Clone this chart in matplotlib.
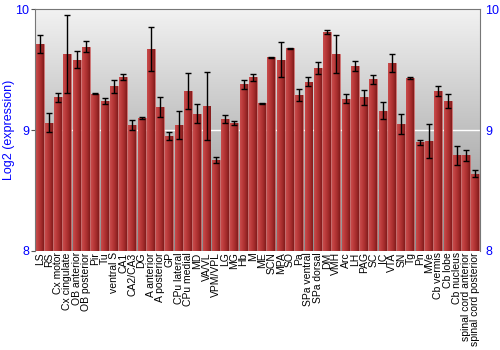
import numpy as np
import matplotlib
matplotlib.use("Agg")
import matplotlib.pyplot as plt
from matplotlib.colors import LinearSegmentedColormap

plt.rcParams["font.family"] = ["Liberation Sans", "DejaVu Sans"]

regions = [
    "LS", "RS", "Cx motor", "Cx cingulate", "OB anterior", "OB posterior",
    "Pir", "Tu", "ventral S", "CA1", "CA2/CA3", "DG", "A anterior",
    "A posterior", "GP", "CPu lateral", "CPu medial", "MD", "VA/VL",
    "VPM/VPL", "LG", "MG", "Hb", "M", "ME", "SCN", "MPA", "SO", "Pa",
    "SPa ventral", "SPa dorsal", "DM", "VMH", "Arc", "LH", "PAG", "SC", "IC",
    "VTA", "SN", "Tg", "Pn", "MVe", "Cb vermis", "Cb lobe", "Cb nucleus",
    "spinal cord anterior", "spinal cord posterior",
]

expression = [
    9.71, 9.06, 9.27, 9.63, 9.58, 9.69,
    9.30, 9.24, 9.36, 9.44, 9.04, 9.10, 9.67,
    9.19, 8.95, 9.04, 9.32, 9.135, 9.20,
    8.75, 9.09, 9.06, 9.38, 9.435, 9.22, 9.60, 9.58, 9.675, 9.29,
    9.40, 9.51, 9.81, 9.63, 9.26, 9.53, 9.27, 9.42, 9.16,
    9.555, 9.05, 9.43, 8.90, 8.91, 9.32, 9.24, 8.79,
    8.79, 8.64,
]

error = [
    0.075, 0.08, 0.035, 0.32, 0.07, 0.045,
    0.005, 0.025, 0.055, 0.025, 0.04, 0.01, 0.18,
    0.08, 0.03, 0.115, 0.15, 0.08, 0.28,
    0.025, 0.035, 0.015, 0.037, 0.028, 0.003, 0.004, 0.145, 0.005, 0.047,
    0.04, 0.05, 0.02, 0.155, 0.036, 0.04, 0.06, 0.037, 0.07,
    0.072, 0.083, 0.01, 0.02, 0.14, 0.04, 0.056, 0.077,
    0.045, 0.03,
]

fig = plt.figure(figsize=(5, 3.5), dpi=100)
ax = fig.add_axes([0.07, 0.283, 0.89, 0.691])

x = np.arange(len(regions))
ax.set_xlim(-0.5, len(regions) - 0.5)
ax.set_ylim(8, 10)

# fond en dégradé
bg = LinearSegmentedColormap.from_list("bg", ["#8e8e8e", "#f2f2f2"])
ax.imshow(np.linspace(0, 1, 256).reshape(-1, 1), cmap=bg, origin="lower",
          extent=[0, 1, 0, 1], transform=ax.transAxes, aspect="auto", zorder=0)

ax.axhline(9, color="white", lw=1, zorder=1)

# barres rouges avec dégradé horizontal
bars = ax.bar(x, [v - 8 for v in expression], bottom=8, width=0.86,
              color="none", edgecolor="#cc6464", linewidth=0.6, zorder=2)
red = LinearSegmentedColormap.from_list(
    "red", ["#c84c4c", "#ba3a3a", "#a42c2c", "#821c1c"])
grad = np.linspace(0, 1, 64).reshape(1, -1)
for b in bars:
    im = ax.imshow(grad, cmap=red, aspect="auto", zorder=2,
                   extent=[b.get_x(), b.get_x() + b.get_width(),
                           b.get_y(), b.get_y() + b.get_height()])
    im.set_clip_path(b)

ax.errorbar(x, expression, yerr=error, fmt="none", ecolor="black",
            elinewidth=1, capsize=2, capthick=1, zorder=3)

ax.set_yticks([8, 9, 10])
ax.tick_params(axis="y", colors="#555555", labelcolor="blue", labelsize=9,
               length=3, pad=1, labelright=True, right=False)
ax.set_xticks(x)
ax.set_xticklabels(regions, rotation=90, fontsize=7.5)
ax.tick_params(axis="x", length=0, pad=1)
ax.set_ylabel("Log2 (expression)", color="blue", fontsize=9, labelpad=0)

for s in ["left", "top", "right"]:
    ax.spines[s].set_color("#777777")
ax.spines["bottom"].set_visible(False)

fig.savefig("out.png", dpi=100)
